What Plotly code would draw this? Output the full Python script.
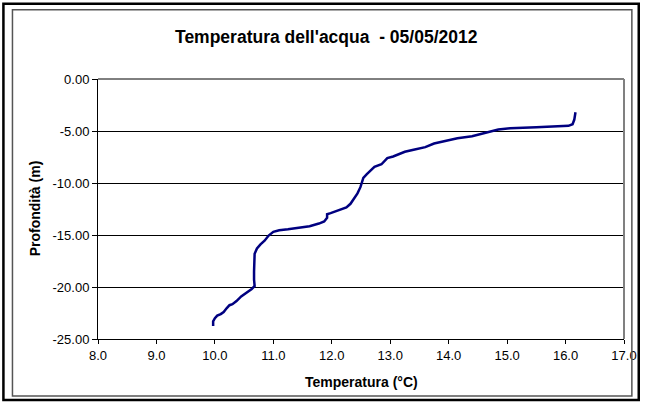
import plotly.graph_objects as go

# ---- data ----
temperature = [9.97, 9.97, 10.00, 10.04, 10.10, 10.15, 10.20, 10.25, 10.30, 10.37,
               10.45, 10.55, 10.63, 10.68, 10.67, 10.67, 10.67, 10.68, 10.72, 10.78,
               10.85, 10.92, 11.00, 11.10, 11.25, 11.45, 11.62, 11.78, 11.87, 11.92,
               11.92, 11.98, 12.12, 12.25, 12.32, 12.38, 12.44, 12.49, 12.51, 12.54,
               12.60, 12.66, 12.73, 12.85, 12.90, 12.95, 13.05, 13.25, 13.40, 13.60,
               13.75, 13.90, 14.15, 14.40, 14.60, 14.75, 14.85, 15.05, 15.50, 15.85,
               16.05, 16.12, 16.15, 16.17]
depth = [-23.75, -23.30, -23.00, -22.75, -22.60, -22.40, -22.05, -21.75, -21.65, -21.35,
         -20.90, -20.50, -20.20, -19.90, -19.30, -18.50, -17.50, -16.80, -16.30, -15.90,
         -15.55, -15.05, -14.70, -14.55, -14.45, -14.30, -14.15, -13.90, -13.70, -13.35,
         -13.00, -12.90, -12.60, -12.35, -12.00, -11.50, -11.00, -10.40, -10.00, -9.50,
         -9.15, -8.80, -8.45, -8.20, -7.90, -7.60, -7.45, -7.00, -6.80, -6.55,
         -6.20, -6.00, -5.70, -5.50, -5.25, -5.00, -4.85, -4.73, -4.65, -4.58,
         -4.50, -4.35, -3.90, -3.20]

x_ticks = [8, 9, 10, 11, 12, 13, 14, 15, 16, 17]
x_tick_labels = ["8.0", "9.0", "10.0", "11.0", "12.0", "13.0", "14.0", "15.0", "16.0", "17.0"]
y_ticks = [0, -5, -10, -15, -20, -25]
y_tick_labels = ["0.00", "-5.00", "-10.00", "-15.00", "-20.00", "-25.00"]

title_text = "Temperatura dell'acqua \u00a0- 05/05/2012"
x_title = "Temperatura (°C)"
y_title = "Profondità (m)"

# ---- layout geometry (pixels) ----
W, H = 649, 403
L, R, T, B = 97.5, 632.5, 79, 339.5
PW, PH = R - L, B - T


def px(x):
    return (x - L) / PW


def py(y):
    return (B - y) / PH


FONT = "Liberation Sans, Arial, sans-serif"

fig = go.Figure()
fig.add_trace(go.Scatter(x=temperature, y=depth, mode="lines",
                         line=dict(color="#000080", width=2.5),
                         showlegend=False, hoverinfo="skip"))

fig.update_layout(
    width=W, height=H,
    margin=dict(l=L, r=W - R, t=T, b=H - B, pad=0),
    paper_bgcolor="white", plot_bgcolor="white",
    font=dict(family=FONT, size=13, color="black"),
    xaxis=dict(range=[8, 17], tickvals=x_ticks, ticktext=x_tick_labels,
               showgrid=False, zeroline=False, showline=True, linecolor="black",
               linewidth=1, ticks="outside", ticklen=4, tickcolor="black",
               tickfont=dict(family=FONT, size=13, color="black"), fixedrange=True),
    yaxis=dict(range=[-25, 0], tickvals=y_ticks, ticktext=y_tick_labels,
               showgrid=True, gridcolor="black", gridwidth=1, zeroline=False,
               showline=True, linecolor="black", linewidth=1,
               ticks="outside", ticklen=5, tickcolor="black",
               tickfont=dict(family=FONT, size=13, color="black"), fixedrange=True),
)

shapes = [
    # top edge (0.00 gridline)
    dict(type="line", xref="paper", yref="paper", x0=0, x1=1, y0=1, y1=1,
         line=dict(color="black", width=1)),
    # right plot-area border (gray)
    dict(type="line", xref="paper", yref="paper", x0=1, x1=1, y0=0, y1=1,
         line=dict(color="#808080", width=2)),
    # inner gray chart frame
    dict(type="rect", xref="paper", yref="paper",
         x0=px(10.5), x1=px(640.5), y0=py(396.5), y1=py(9.5),
         line=dict(color="#555555", width=1.5)),
    # outer black frame
    dict(type="rect", xref="paper", yref="paper",
         x0=px(1.3), x1=px(647.5), y0=py(400.5), y1=py(3.7),
         line=dict(color="black", width=2.5)),
]
fig.update_layout(shapes=shapes)

annotations = [
    dict(text="<b>" + title_text + "</b>", xref="paper", yref="paper",
         x=px(330), y=py(37), showarrow=False, xanchor="center", yanchor="middle",
         font=dict(family=FONT, size=17.5, color="black")),
    dict(text="<b>" + x_title + "</b>", xref="paper", yref="paper",
         x=px(365), y=py(383), showarrow=False, xanchor="center", yanchor="middle",
         font=dict(family=FONT, size=14, color="black")),
    dict(text="<b>" + y_title + "</b>", xref="paper", yref="paper",
         x=px(33), y=py(209), showarrow=False, xanchor="center", yanchor="middle",
         textangle=-90, font=dict(family=FONT, size=14, color="black")),
]
fig.update_layout(annotations=annotations)

fig.write_html("out.html", config={"displayModeBar": False},
               post_script="document.body.style.margin='0px';")
